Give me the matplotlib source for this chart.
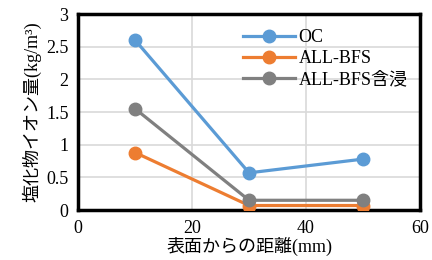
import matplotlib
matplotlib.use("Agg")
import matplotlib.pyplot as plt

plt.rcParams['font.family'] = ['Liberation Serif', 'Noto Sans CJK JP']

x = [10, 30, 50]
series_names = ["OC", "ALL-BFS", "ALL-BFS含浸"]
oc = [2.6, 0.57, 0.78]
all_bfs = [0.88, 0.07, 0.07]
all_bfs_imp = [1.55, 0.15, 0.15]
colors = ["#5B9BD5", "#ED7D31", "#808080"]

fig = plt.figure(figsize=(4.32, 2.60), dpi=100)
ax = fig.add_axes([0.181, 0.192, 0.791, 0.754])

for ys, name, c in zip([oc, all_bfs, all_bfs_imp], series_names, colors):
    ax.plot(x, ys, color=c, lw=2.3, marker='o', ms=9, label=name, zorder=3)

ax.set_xlim(0, 60)
ax.set_ylim(0, 3)
ax.set_xticks([0, 20, 40, 60])
ax.set_yticks([0, 0.5, 1, 1.5, 2, 2.5, 3])
ax.set_yticklabels(["0", "0.5", "1", "1.5", "2", "2.5", "3"])
ax.grid(True, color="#D9D9D9", lw=1.2, zorder=0)
ax.tick_params(length=0, labelsize=13, pad=7)
for s in ax.spines.values():
    s.set_linewidth(2.5)
    s.set_color("black")

ax.set_xlabel("表面からの距離(mm)", fontsize=13, labelpad=0)
ax.set_ylabel("塩化物イオン量(kg/m³)", fontsize=13, labelpad=3)

leg = ax.legend(loc="upper right", frameon=False, fontsize=13,
                handlelength=2.9, borderaxespad=0.0, labelspacing=0.22,
                handletextpad=0.2, bbox_to_anchor=(0.985, 0.96))

fig.savefig("out.png", dpi=100)
